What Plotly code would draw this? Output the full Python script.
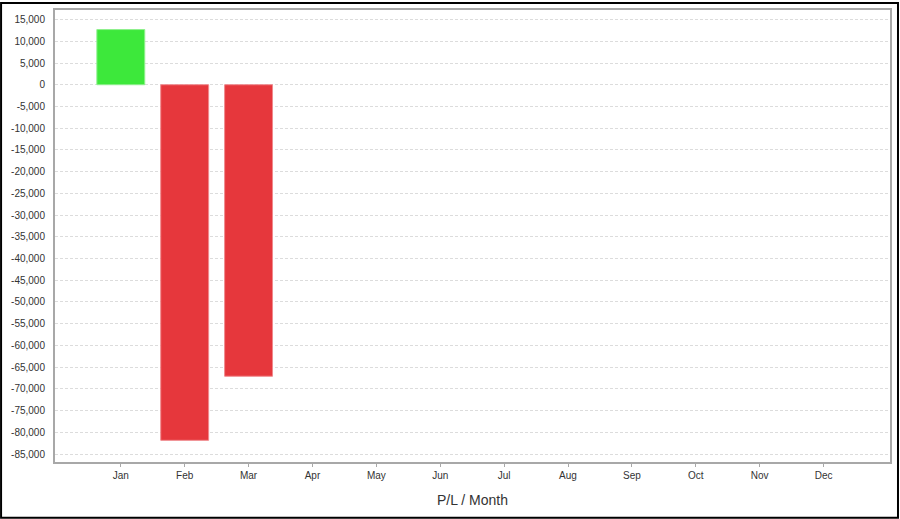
import plotly.graph_objects as go

months = ["Jan", "Feb", "Mar", "Apr", "May", "Jun", "Jul", "Aug", "Sep", "Oct", "Nov", "Dec"]
pl_values = [12700, -81850, -67100, None, None, None, None, None, None, None, None, None]
tick_values = list(range(-85000, 15001, 5000))
tick_labels = [f"{v:,}" for v in tick_values]

GREEN = "#3de83b"
RED = "#e6373c"
fill_colors = [GREEN if (v is not None and v >= 0) else RED for v in pl_values]
line_colors = ["#8ff08d" if (v is not None and v >= 0) else "#f08a8d" for v in pl_values]

W, H = 900, 519
ML, MR, MT, MB = 55, 9, 8, 57
PW, PH = W - ML - MR, H - MT - MB

fig = go.Figure(go.Bar(
    x=list(range(len(months))),
    y=pl_values,
    width=0.75,
    marker=dict(color=fill_colors, line=dict(color=line_colors, width=1)),
    hoverinfo="skip",
))

fig.update_layout(
    width=W, height=H,
    margin=dict(l=ML, r=MR, t=MT, b=MB),
    paper_bgcolor="white",
    plot_bgcolor="white",
    showlegend=False,
    font=dict(family="Liberation Sans, Arial, sans-serif", size=10, color="#333333"),
    xaxis=dict(
        range=[-1.03, 12.04],
        tickmode="array",
        tickvals=list(range(len(months))),
        ticktext=months,
        showgrid=False,
        zeroline=False,
        showline=True, linecolor="#a8a8a8", linewidth=2, mirror=True,
        ticks="outside", ticklen=3, tickcolor="#a8a8a8", tickwidth=1,
        tickfont=dict(size=10, color="#333333"),
        title=dict(text="P/L / Month", font=dict(size=14, color="#333333"), standoff=15),
    ),
    yaxis=dict(
        range=[-86840, 17200],
        tickmode="array",
        tickvals=tick_values,
        ticktext=tick_labels,
        showgrid=True, gridcolor="#dcdcdc", griddash="3px,2px", gridwidth=1,
        zeroline=False,
        showline=True, linecolor="#a8a8a8", linewidth=2, mirror=True,
        ticks="", ticklabelstandoff=6,
        tickfont=dict(size=10, color="#333333"),
    ),
    shapes=[dict(
        type="rect", xref="paper", yref="paper",
        x0=(-ML + 1) / PW, x1=(PW + MR - 1) / PW,
        y0=(-MB + 1) / PH, y1=(PH + MT - 1) / PH,
        line=dict(color="black", width=2), fillcolor="rgba(0,0,0,0)",
        layer="above",
    )],
)

fig.write_html(
    "out.html",
    config={"displayModeBar": False},
    post_script="document.body.style.margin='0';document.body.style.overflow='hidden';",
)
